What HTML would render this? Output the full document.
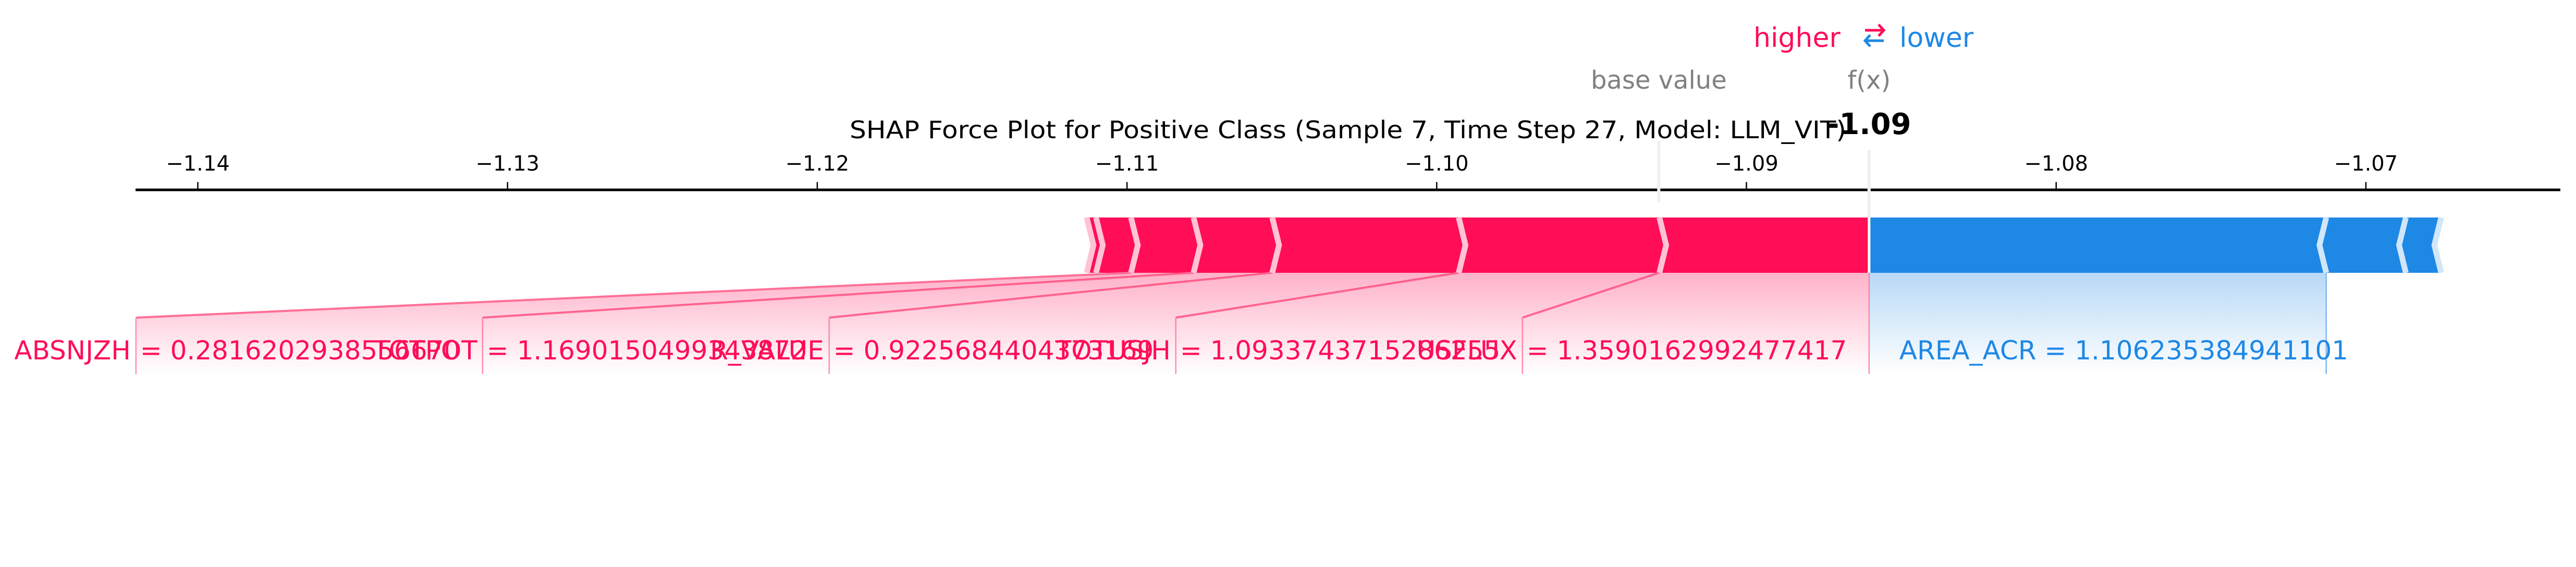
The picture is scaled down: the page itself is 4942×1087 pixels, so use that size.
<!DOCTYPE html>
<html><head><meta charset="utf-8"><style>
html,body{margin:0;padding:0;background:#fff;}
svg{display:block;font-family:"DejaVu Sans","Liberation Sans",sans-serif;}
</style></head><body>
<svg id="chart" width="4942" height="1087" viewBox="0 0 4942 1087" xmlns="http://www.w3.org/2000/svg">
<defs>
<linearGradient id="gr" x1="0" y1="0" x2="0" y2="1"><stop offset="0" stop-color="#ff0d57" stop-opacity="0.32"/><stop offset="1" stop-color="#ff0d57" stop-opacity="0"/></linearGradient>
<linearGradient id="gb" x1="0" y1="0" x2="0" y2="1"><stop offset="0" stop-color="#1e88e5" stop-opacity="0.32"/><stop offset="1" stop-color="#1e88e5" stop-opacity="0"/></linearGradient>
</defs>
<g id="root"></g>
</svg>
<script>
const tickValues=[-1.14,-1.13,-1.12,-1.11,-1.10,-1.09,-1.08,-1.07];
const tickLabels=["\u22121.14","\u22121.13","\u22121.12","\u22121.11","\u22121.10","\u22121.09","\u22121.08","\u22121.07"];
const fxValue=-1.08604;
const fxLabel="-1.09";
const redNames=["USFLUX","TOTUSJH","R_VALUE","TOTPOT","ABSNJZH","",""];
const redValues=["1.3590162992477417","1.0933743715286255","0.9225684404373169","1.1690150499343872","0.2816202938556670","",""];
const redShap=[0.00677,0.00648,0.00602,0.00254,0.00202,0.00113,0.0003];
const blueNames=["AREA_ACR","",""];
const blueValues=["1.106235384941101","",""];
const blueShap=[0.01476,0.00257,0.00114];

const NS="http://www.w3.org/2000/svg";
const root=document.getElementById('root');
function x(v){return 379.5+(v+1.14)*59420;}
function mk(tag,attrs,parent){const e=document.createElementNS(NS,tag);for(const k in attrs)e.setAttribute(k,attrs[k]);(parent||root).appendChild(e);return e;}
const TOP=417,BOT=523,MID=470,C=13,LBLY=609,LBLB=717;

// axis
let ax=mk('line',{x1:260,y1:364,x2:4912,y2:364,stroke:'#000','stroke-width':5});


tickValues.forEach((v,i)=>{
  let t=mk('line',{x1:x(v),y1:349,x2:x(v),y2:364,stroke:'#000','stroke-width':2.5});
  
  
  let l=mk('text',{x:x(v),y:327,'text-anchor':'middle','font-size':40,fill:'#000'});
  l.textContent=tickLabels[i];
  
  
});

// title
let ti=mk('text',{x:2586,y:265,'text-anchor':'middle','font-size':46,fill:'#000',textLength:1912,lengthAdjust:'spacingAndGlyphs'});
ti.textContent="SHAP Force Plot for Positive Class (Sample 7, Time Step 27, Model: LLM_VIT)";



// legend higher/lower
let hi=mk('text',{x:3364,y:90,'font-size':52,fill:'#ff0d57'});hi.textContent="higher";


let lo=mk('text',{x:3644,y:90,'font-size':52,fill:'#1e88e5'});lo.textContent="lower";


let ar1=mk('path',{d:'M3578,58 L3614,58 M3604,47 L3614,58 L3604,69',stroke:'#ff0d57','stroke-width':5,fill:'none'});


let ar2=mk('path',{d:'M3614,78 L3578,78 M3588,67 L3578,78 L3588,89',stroke:'#1e88e5','stroke-width':5,fill:'none'});



// base value & f(x)
const redSum=redShap.reduce((a,b)=>a+b,0), blueSum=blueShap.reduce((a,b)=>a+b,0);
const baseValue=fxValue-redSum+blueSum;
let bl=mk('line',{x1:x(baseValue),y1:270,x2:x(baseValue),y2:388,stroke:'#f0f0f0','stroke-width':6});


let fl=mk('line',{x1:x(fxValue),y1:288,x2:x(fxValue),y2:417,stroke:'#f0f0f0','stroke-width':6});


let bt=mk('text',{x:x(baseValue),y:170,'text-anchor':'middle','font-size':48,fill:'#808080'});bt.textContent="base value";


let ft=mk('text',{x:x(fxValue),y:170,'text-anchor':'middle','font-size':48,fill:'#808080'});ft.textContent="f(x)";


let fv=mk('text',{x:x(fxValue),y:257,'text-anchor':'middle','font-size':56,'font-weight':'bold',fill:'#000'});fv.textContent=fxLabel;



// red segments
let cur=fxValue;
const redBounds=[];
redShap.forEach((s,i)=>{
  const x1=x(cur), x0=x(cur-s);
  const c1=(i===0)?0:C;
  let p=mk('polygon',{points:`${x0},${TOP} ${x1},${TOP} ${x1+c1},${MID} ${x1},${BOT} ${x0},${BOT} ${x0+C},${MID}`,fill:'#ff0d57'});
  
  
  redBounds.push([x0,x1]);
  cur-=s;
});
// red label fills
const spacing=665;
redNames.forEach((n,i)=>{
  if(!n)return;
  const [x0,x1]=redBounds[i];
  const lx=x(fxValue)-spacing*(i+1);
  const rx=x(fxValue)-spacing*i;
  let g=mk('polygon',{points:`${x0},${BOT} ${x1},${BOT} ${i===0?x1:rx},${i===0?BOT:LBLY} ${rx},${LBLB} ${lx},${LBLB} ${lx},${LBLY}`,fill:'url(#gr)'});
  
  
  let ln=mk('polyline',{points:`${x0},${BOT} ${lx},${LBLY}`,stroke:'#ff6f96','stroke-width':4,fill:'none'});
  
  
  let vl=mk('line',{x1:lx,y1:LBLY,x2:lx,y2:LBLB,stroke:'#ff8fb0','stroke-width':2.5});
  
  
  let tn=mk('text',{x:lx-10,y:689,'text-anchor':'end','font-size':50,fill:'#ff0d57'});tn.textContent=n;
  
  
  let tv=mk('text',{x:lx+8,y:689,'font-size':50,fill:'#ff0d57'});tv.textContent="= "+redValues[i];
  
  
});
let fr=mk('line',{x1:x(fxValue),y1:BOT,x2:x(fxValue),y2:LBLB,stroke:'#ff8fb0','stroke-width':2.5});



// blue segments
cur=fxValue;
const blueBounds=[];
blueShap.forEach((s,i)=>{
  const x0=x(cur), x1=x(cur+s);
  const c0=(i===0)?0:C;
  let p=mk('polygon',{points:`${x0},${TOP} ${x1},${TOP} ${x1-C},${MID} ${x1},${BOT} ${x0},${BOT} ${x0-c0},${MID}`,fill:'#1e88e5'});
  
  
  blueBounds.push([x0,x1]);
  cur+=s;
});
blueNames.forEach((n,i)=>{
  if(!n)return;
  const [x0,x1]=blueBounds[i];
  let g=mk('rect',{x:x0,y:BOT,width:x1-x0,height:LBLB-BOT,fill:'url(#gb)'});
  
  
  let vl=mk('line',{x1:x1,y1:BOT,x2:x1,y2:LBLB,stroke:'#7fb8ee','stroke-width':2.5});
  
  
  let tv=mk('text',{x:x0+58,y:689,'font-size':50,fill:'#1e88e5'});tv.textContent=n+" = "+blueValues[i];
  
  
});

// separators
redBounds.forEach((b,i)=>{
  const xx=b[0];
  let s=mk('polyline',{points:`${xx},${TOP} ${xx+C},${MID} ${xx},${BOT}`,stroke:'#ffc3d5','stroke-width':11,fill:'none'});
  
  
});
blueBounds.forEach((b,i)=>{
  const xx=b[1];
  let s=mk('polyline',{points:`${xx},${TOP} ${xx-C},${MID} ${xx},${BOT}`,stroke:'#d1e6fa','stroke-width':11,fill:'none'});
  
  
});
let sep=mk('line',{x1:x(fxValue),y1:TOP,x2:x(fxValue),y2:BOT,stroke:'#fff','stroke-width':5});


</script>
</body></html>
